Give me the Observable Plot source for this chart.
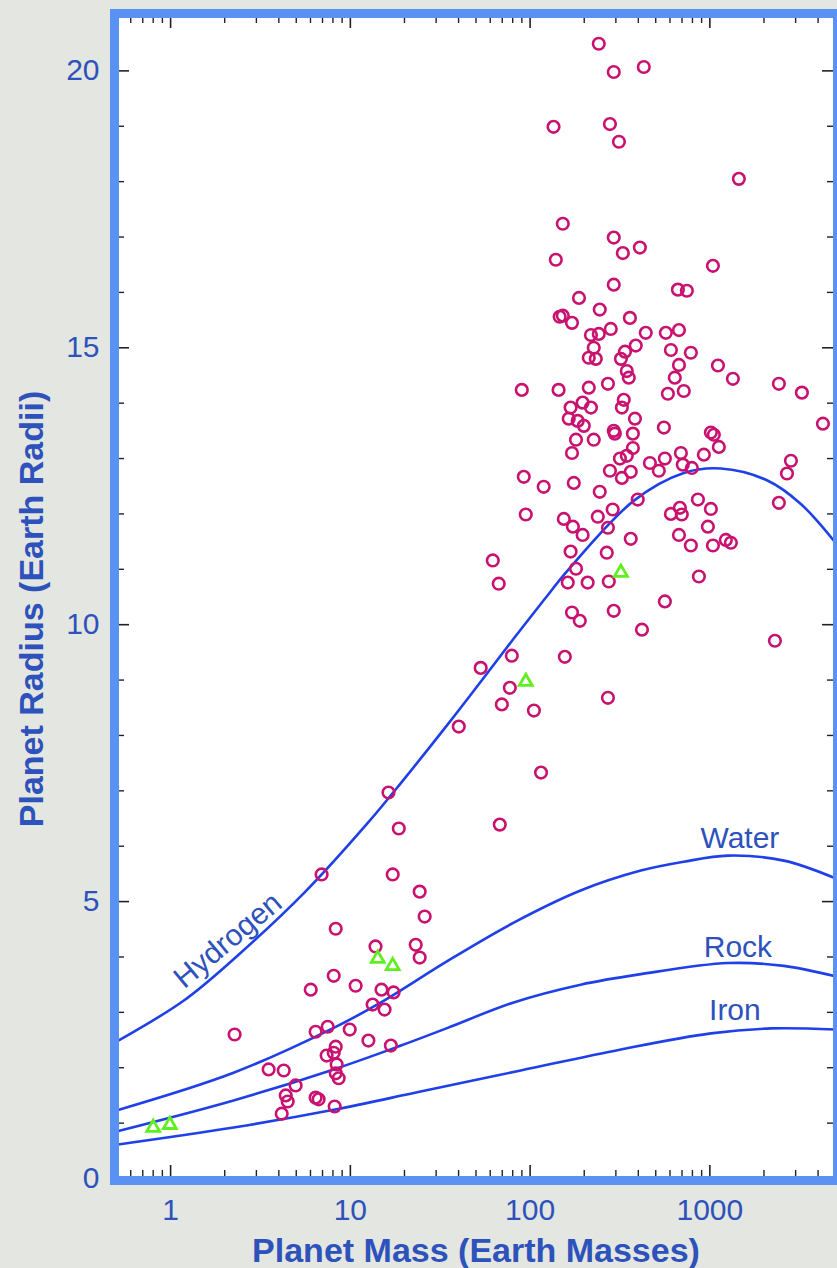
<!DOCTYPE html>
<html><head><meta charset="utf-8">
<script src="https://cdn.jsdelivr.net/npm/d3@7"></script>
<script src="https://cdn.jsdelivr.net/npm/@observablehq/plot@0.6"></script>
<style>
html,body{margin:0;padding:0;background:#e4e6e1;}
#chart svg{display:block;}
</style></head><body><div id="chart"></div>
<script>
// Exoplanets (Earth masses, Earth radii)
const exoMass = [241,292,429,135,278,312,1450,152,292,328,408,139,1040,292,664,745,187,244,146,152,171,359,281,440,569,673,218,241,226,387,337,607,784,212,232,320,673,345,1109,354,638,1343,89.9,144,212,271,584,716,2421,3251,332,196,168,218,324,164,184,199,383,555,4256,292,296,373,1013,1052,1122,180,226,373,171,690,926,345,316,464,562,278,363,324,520,707,794,2825,2685,92.2,119,175,244,397,858,1013,2421,94.6,154,173,196,238,288,271,607,681,698,975,673,784,1040,1227,1309,363,168,267,62.0,66.9,180,162,209,274,869,562,171,189,292,419,2301,79.1,53.1,156,77.1,69.6,105,271,40.1,115,67.8,16.3,18.6,6.92,17.2,24.3,25.9,8.29,13.8,23.1,24.3,8.08,6.02,10.7,14.9,17.4,13.3,15.5,2.27,6.41,7.48,9.92,12.6,16.8,8.29,8.08,7.38,8.39,8.29,8.61,3.51,4.26,4.96,4.37,4.48,4.15,6.41,6.66,8.18];
const exoRadius = [20.49,19.98,20.07,18.99,19.04,18.72,18.05,17.24,16.99,16.71,16.81,16.59,16.48,16.14,16.05,16.03,15.90,15.69,15.56,15.58,15.45,15.54,15.34,15.27,15.27,15.32,15.23,15.25,15.00,15.04,14.93,14.96,14.91,14.82,14.80,14.80,14.69,14.58,14.68,14.46,14.46,14.44,14.24,14.24,14.28,14.35,14.17,14.22,14.35,14.19,14.06,14.01,13.92,13.92,13.92,13.72,13.68,13.59,13.72,13.56,13.63,13.50,13.45,13.45,13.47,13.43,13.21,13.34,13.34,13.19,13.10,13.10,13.07,13.05,13.00,12.92,13.00,12.78,12.76,12.65,12.78,12.89,12.83,12.96,12.73,12.67,12.49,12.56,12.40,12.26,12.26,12.09,12.20,11.99,11.91,11.77,11.62,11.95,12.08,11.75,12.00,12.11,11.99,11.77,11.62,11.43,11.43,11.53,11.48,11.55,11.32,11.30,11.16,10.74,11.01,10.76,10.76,10.78,10.87,10.42,10.22,10.07,10.25,9.91,9.71,9.44,9.22,9.42,8.86,8.56,8.45,8.68,8.16,7.33,6.39,6.97,6.32,5.49,5.49,5.18,4.73,4.51,4.19,4.22,3.99,3.66,3.41,3.48,3.41,3.36,3.14,3.05,2.60,2.65,2.74,2.69,2.49,2.40,2.38,2.27,2.22,2.06,1.90,1.81,1.97,1.95,1.68,1.50,1.39,1.17,1.46,1.43,1.30];

// Solar-system planets (triangles)
const solarMass = [0.80, 0.99, 14.2, 17.2, 94.6, 320];
const solarRadius = [0.92, 0.97, 3.97, 3.84, 8.97, 10.94];

// Model mass-radius curves
const hydrogenMass = [0.5,1.18,2.24,5.62,12.5,19.1,34.8,53.1,81.1,119,162,378,716,1151,2103,3208,5000];
const hydrogenRadius = [2.47,3.21,3.96,5.18,6.42,7.14,8.20,8.97,9.75,10.44,10.98,12.24,12.74,12.82,12.6,12.18,11.48];
const waterMass = [0.5,2.24,8.08,14.8,34.8,81.1,191,413,716,1259,2582,5000];
const waterRadius = [1.23,1.91,2.72,3.18,3.93,4.62,5.20,5.56,5.72,5.83,5.74,5.42];
const rockMass = [0.5,2.24,8.08,19.1,34.8,81.1,191,413,1259,2582,5000];
const rockRadius = [0.85,1.41,1.97,2.40,2.72,3.18,3.50,3.69,3.89,3.84,3.65];
const ironMass = [0.5,2.24,8.08,24.6,88.7,320,1013,2185,5000];
const ironRadius = [0.61,0.92,1.24,1.57,1.95,2.33,2.62,2.71,2.69];

const curveNames = ["Water","Rock","Iron"];
const curveLabelMass = [1469,1432,1378];
const curveLabelRadius = [6.14,4.17,3.03];
const hydrogenLabel = {name:"Hydrogen", m:2.08, r:4.30};

// Axes
const xTickLabels = [1,10,100,1000];
const xMinorTicks = [0.6,0.7,0.8,0.9,2,3,4,5,6,7,8,9,20,30,40,50,60,70,80,90,200,300,400,500,600,700,800,900,2000,3000,4000];
const yTickLabels = [0,5,10,15,20];
const yMinorTicks = [1,2,3,4,6,7,8,9,11,12,13,14,16,17,18,19,21];
const xTitle = "Planet Mass (Earth Masses)";
const yTitle = "Planet Radius (Earth Radii)";

const W=837,H=1268,mL=116,mR=2,mT=15,mB=90;
const plotH=H-mT-mB, plotW=W-mL-mR;

const exo = exoMass.map((m,i)=>({m, r:exoRadius[i]}));
const solar = solarMass.map((m,i)=>({m, r:solarRadius[i]}));
const curves = [
  ["Hydrogen",hydrogenMass,hydrogenRadius],
  ["Water",waterMass,waterRadius],
  ["Rock",rockMass,rockRadius],
  ["Iron",ironMass,ironRadius]
].flatMap(([name,ms,rs])=>ms.map((m,i)=>({name,m,r:rs[i]})));
const labels = curveNames.map((name,i)=>({name,m:curveLabelMass[i],r:curveLabelRadius[i]}));

const textBlue = "#2d52bb";
const tickCol = "#222";
const chart = Plot.plot({
  width:W, height:H, marginLeft:mL, marginRight:mR, marginTop:mT, marginBottom:mB,
  style:{background:"transparent", fontFamily:"'Liberation Sans', Arial, Helvetica, sans-serif", overflow:"visible"},
  x:{type:"log", domain:[0.5,5000]},
  y:{domain:[0,21]},
  marks:[
    Plot.frame({fill:"white", stroke:null, inset:-2}),
    Plot.line(curves,{x:"m",y:"r",z:"name",stroke:"#1f40e8",strokeWidth:2.6,curve:"catmull-rom"}),
    Plot.dot(exo,{x:"m",y:"r",r:5.8,stroke:"#c9126f",strokeWidth:2.6,fill:"none"}),
    Plot.dot(solar,{x:"m",y:"r",symbol:"triangle",r:4.8,stroke:"#5ef01c",strokeWidth:2.8,fill:"none"}),
    Plot.tickX(xTickLabels,{x:d=>d, insetTop:plotH-13, stroke:tickCol, strokeWidth:1.6}),
    Plot.tickX(xTickLabels,{x:d=>d, insetBottom:plotH-13, stroke:tickCol, strokeWidth:1.6}),
    Plot.tickX(xMinorTicks,{x:d=>d, insetTop:plotH-8, stroke:tickCol, strokeWidth:1.4}),
    Plot.tickX(xMinorTicks,{x:d=>d, insetBottom:plotH-8, stroke:tickCol, strokeWidth:1.4}),
    Plot.tickY(yTickLabels,{y:d=>d, insetRight:plotW-13, stroke:tickCol, strokeWidth:1.6}),
    Plot.tickY(yTickLabels,{y:d=>d, insetLeft:plotW-13, stroke:tickCol, strokeWidth:1.6}),
    Plot.tickY(yMinorTicks,{y:d=>d, insetRight:plotW-8, stroke:tickCol, strokeWidth:1.4}),
    Plot.tickY(yMinorTicks,{y:d=>d, insetLeft:plotW-8, stroke:tickCol, strokeWidth:1.4}),
    Plot.frame({stroke:"#5a92f4", strokeWidth:9, inset:-2}),
    Plot.axisX({ticks:xTickLabels, tickFormat:d=>String(d), tickSize:0, tickPadding:20, fontSize:30, color:textBlue, label:null}),
    Plot.axisY({ticks:yTickLabels, tickFormat:d=>String(d), tickSize:0, tickPadding:17, fontSize:30, color:textBlue, label:null}),
    Plot.text(labels,{x:"m",y:"r",text:"name",fontSize:30,fill:textBlue}),
    Plot.text([hydrogenLabel],{x:"m",y:"r",text:"name",fontSize:30,fill:textBlue,rotate:-40}),
    Plot.text([xTitle],{frameAnchor:"bottom", lineAnchor:"middle", dy:73, text:d=>d, fontSize:34, fontWeight:"bold", fill:textBlue}),
    Plot.text([yTitle],{frameAnchor:"left", textAnchor:"middle", lineAnchor:"middle", dx:-84, dy:12, rotate:-90, text:d=>d, fontSize:34, fontWeight:"bold", fill:textBlue})
  ]
});
document.getElementById("chart").append(chart);
</script></body></html>
